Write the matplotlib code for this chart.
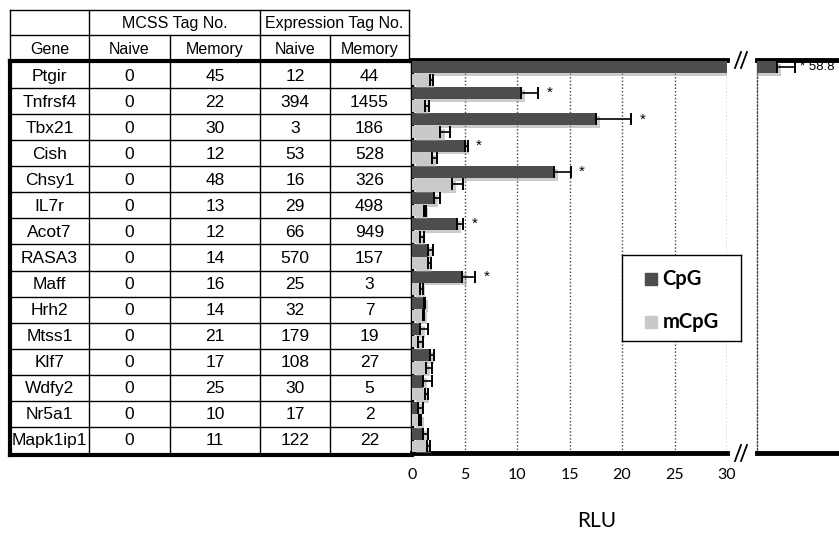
import matplotlib
matplotlib.use("Agg")
import matplotlib.pyplot as plt
import matplotlib.patheffects as pe
import numpy as np

# table data
genes = ["Ptgir", "Tnfrsf4", "Tbx21", "Cish", "Chsy1", "IL7r", "Acot7", "RASA3",
         "Maff", "Hrh2", "Mtss1", "Klf7", "Wdfy2", "Nr5a1", "Mapk1ip1"]
mcss_naive = [0, 0, 0, 0, 0, 0, 0, 0, 0, 0, 0, 0, 0, 0, 0]
mcss_memory = [45, 22, 30, 12, 48, 13, 12, 14, 16, 14, 21, 17, 25, 10, 11]
expr_naive = [12, 394, 3, 53, 16, 29, 66, 570, 25, 32, 179, 108, 30, 17, 122]
expr_memory = [44, 1455, 186, 528, 326, 498, 949, 157, 3, 7, 19, 27, 5, 2, 22]

# bar data (RLU)
cpg = [58.8, 10.4, 17.5, 5.0, 13.5, 2.1, 4.3, 1.5, 4.8, 1.1, 0.8, 1.7, 1.0, 0.6, 1.0]
cpg_err = [1.7, 1.6, 3.4, 0.3, 1.6, 0.6, 0.6, 0.5, 1.2, 0.1, 0.7, 0.4, 0.9, 0.4, 0.5]
mcpg = [1.7, 1.2, 2.7, 1.9, 3.8, 1.1, 0.8, 1.5, 0.8, 1.0, 0.6, 1.3, 1.2, 0.7, 1.4]
mcpg_err = [0.3, 0.4, 0.9, 0.5, 1.1, 0.2, 0.3, 0.3, 0.2, 0.1, 0.4, 0.6, 0.3, 0.2, 0.3]
sig = [1, 1, 1, 1, 1, 0, 1, 0, 1, 0, 0, 0, 0, 0, 0]
xticks = [0, 5, 10, 15, 20, 25, 30]

W, H = 839, 533
fig = plt.figure(figsize=(W / 100, H / 100), dpi=100)


def box(l, t, r, b):
    return [l / W, 1 - b / H, (r - l) / W, (b - t) / H]


# background axes in pixel coords for the table
bg = fig.add_axes([0, 0, 1, 1], zorder=0)
bg.set_xlim(0, W)
bg.set_ylim(H, 0)
bg.axis("off")

cols = [10, 89, 170, 260, 330, 409]
top, h1, h2 = 10, 35, 62
row_h = (453 - 62) / len(genes)
hfont = dict(family="Liberation Sans", fontsize=11.5, ha="center", va="center")
tfont = dict(family="Liberation Sans", fontsize=12.5, ha="center", va="center")

# header lines
for y in [top, h1]:
    bg.plot([cols[0], cols[-1]], [y, y], color="black", lw=1)
for x in [cols[0], cols[1], cols[3], cols[5]]:
    bg.plot([x, x], [top, h2], color="black", lw=1)
for x in [cols[2], cols[4]]:
    bg.plot([x, x], [h1, h2], color="black", lw=1)
bg.text((cols[1] + cols[3]) / 2, (top + h1) / 2 + 1, "MCSS Tag No.", **hfont)
bg.text((cols[3] + cols[5]) / 2, (top + h1) / 2 + 1, "Expression Tag No.", **hfont)
for i, lab in enumerate(["Gene", "Naive", "Memory", "Naive", "Memory"]):
    bg.text((cols[i] + cols[i + 1]) / 2, (h1 + h2) / 2 + 1, lab, **hfont)

# body
for i in range(len(genes)):
    yc = h2 + row_h * (i + 0.5) + 1
    vals = [genes[i], mcss_naive[i], mcss_memory[i], expr_naive[i], expr_memory[i]]
    for j, v in enumerate(vals):
        bg.text((cols[j] + cols[j + 1]) / 2, yc, str(v), **tfont)
    if i > 0:
        bg.plot([cols[0], 412], [h2 + row_h * i] * 2, color="black", lw=1)
for x in cols[1:-1]:
    bg.plot([x, x], [h2, 453], color="black", lw=1)
bg.plot([cols[0], cols[0]], [h2 - 1, 455], color="black", lw=3)
bg.plot([cols[0], 412], [455, 455], color="black", lw=3)
bg.plot([cols[0], 412], [h2 - 1, h2 - 1], color="black", lw=3)

# chart axes
shadow = [pe.SimplePatchShadow(offset=(3, -2), shadow_rgbFace="0.6", alpha=0.5), pe.Normal()]
dark, light = "#4d4d4d", "#c9c9c9"
y = np.arange(len(genes))

axl = fig.add_axes(box(412, 60, 727, 453), zorder=2)
axr = fig.add_axes(box(757, 60, 839, 453), zorder=2)
for ax in [axl, axr]:
    ax.patch.set_alpha(0)
    ax.barh(y + 0.27, cpg, height=0.46, color=dark, path_effects=shadow, zorder=3)
    ax.barh(y + 0.75, mcpg, height=0.44, color=light, path_effects=shadow, zorder=3)
    ax.errorbar(cpg, y + 0.27, xerr=[np.zeros(len(cpg)), cpg_err], fmt="none",
                ecolor="black", elinewidth=1.2, capsize=4.5, capthick=1.4, zorder=4)
    ax.errorbar(mcpg, y + 0.75, xerr=[np.zeros(len(mcpg)), mcpg_err], fmt="none",
                ecolor="black", elinewidth=1.2, capsize=4, capthick=1.4, zorder=4)
    ax.set_ylim(len(genes), 0)
    ax.set_yticks([])
    ax.spines["top"].set_linewidth(3.5)
    ax.spines["bottom"].set_linewidth(3.5)
    ax.spines["right"].set_visible(False)
    ax.tick_params(axis="x", length=0)

axl.set_xlim(0, 30)
axl.set_xticks(xticks)
axl.set_xticklabels([str(t) for t in xticks], family="Lato", fontsize=11.5)
axl.tick_params(axis="x", pad=11)
axl.spines["left"].set_linewidth(2.5)
for t in xticks[1:]:
    axl.axvline(t, color="#444444", lw=1, ls=(0, (1, 1.5)), zorder=1)

axr.set_xlim(56.9, 64.7)
axr.set_xticks([])
axr.spines["left"].set_linestyle((0, (1, 1.5)))
axr.spines["left"].set_linewidth(1)
axr.spines["left"].set_color("#444444")

for i in range(len(genes)):
    if not sig[i]:
        continue
    if cpg[i] > 30:
        axr.text(cpg[i] + cpg_err[i] + 0.5, i + 0.27, "* 58.8", family="Liberation Sans",
                 fontsize=9.5, va="center", zorder=5)
    else:
        axl.text(cpg[i] + cpg_err[i] + 0.8, i + 0.27, "*", family="Liberation Sans",
                 fontsize=11, va="center", zorder=5)

fig.text(597 / W, 1 - 521 / H, "RLU", family="Lato", fontsize=15, ha="center", va="center")

# legend
legax = fig.add_axes(box(622, 255, 741, 341), zorder=5)
legax.set_xlim(0, 1)
legax.set_ylim(0, 1)
legax.set_xticks([])
legax.set_yticks([])
for s in legax.spines.values():
    s.set_linewidth(1)
legax.scatter([0.24], [0.72], marker="s", s=80, color=dark)
legax.scatter([0.24], [0.22], marker="s", s=80, color=light)
legax.text(0.34, 0.72, "CpG", family="Lato", weight="bold", fontsize=14.5, va="center")
legax.text(0.34, 0.22, "mCpG", family="Lato", weight="bold", fontsize=14.5, va="center")

# break marks
top_ax = fig.add_axes([0, 0, 1, 1], zorder=6)
top_ax.set_xlim(0, W)
top_ax.set_ylim(H, 0)
top_ax.axis("off")
for yb in [60, 453]:
    for dx in [0, 6]:
        top_ax.plot([735 + dx, 741 + dx], [yb + 8, yb - 8], color="black", lw=1.3)

fig.savefig("out.png", dpi=100)
